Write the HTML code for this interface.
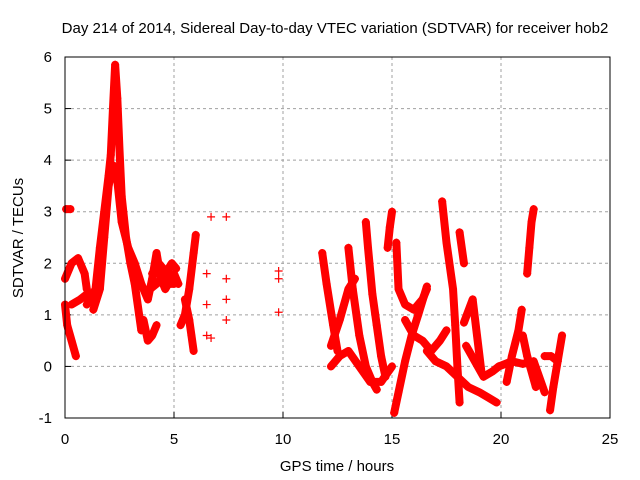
<!DOCTYPE html>
<html><head><meta charset="utf-8"><style>
body{margin:0;background:#fff;}
svg{display:block;font-family:"Liberation Sans",sans-serif;}
</style></head><body>
<svg id="chart" width="640" height="480">
<rect width="640" height="480" fill="#fff"/>
<text x="335" y="33" text-anchor="middle" font-size="15">Day 214 of 2014, Sidereal Day-to-day VTEC variation (SDTVAR) for receiver hob2</text>
<text transform="translate(23,238) rotate(-90)" text-anchor="middle" font-size="15">SDTVAR / TECUs</text>
<text x="337" y="471" text-anchor="middle" font-size="15">GPS time / hours</text>
<g id="grid"></g><g id="ticks"></g><g id="marks"></g>
<rect x="65" y="57" width="545" height="361" fill="none" stroke="#000"/>
</svg>
<script>
const xTicks=[0,5,10,15,20,25];
const yTicks=[-1,0,1,2,3,4,5,6];
const tracks=[
[[1.0,1.2],[1.4,1.5],[1.6,2.3],[1.8,3.0],[2.0,3.7],[2.1,4.1],[2.2,5.0],[2.3,5.85],[2.4,5.2],[2.5,4.2],[2.6,3.3],[2.8,2.5],[3.0,2.0],[3.2,1.6],[3.4,1.0],[3.5,0.7]],
[[1.3,1.1],[1.6,1.5],[1.8,2.5],[2.0,3.5],[2.2,3.9],[2.4,3.6],[2.6,2.8],[2.9,2.3],[3.2,2.0],[3.5,1.6],[3.8,1.3],[4.0,1.7],[4.2,2.2],[4.4,1.7],[4.6,1.5],[5.0,1.8],[5.2,1.6]],
[[0.0,1.2],[0.1,0.8],[0.3,0.5],[0.5,0.2]],
[[0.0,1.7],[0.3,2.0],[0.6,2.1],[0.9,1.8],[1.0,1.5]],
[[0.05,3.05],[0.25,3.05]],
[[0.3,1.2],[0.7,1.3],[1.0,1.4]],
[[3.6,0.9],[3.8,0.5],[4.0,0.6],[4.2,0.8]],
[[4.0,1.8],[4.3,2.0],[4.5,1.9],[4.8,1.6],[5.0,1.6]],
[[3.9,1.5],[4.2,1.6],[4.6,1.8],[4.9,2.0],[5.1,1.9]],
[[5.3,0.8],[5.5,1.0],[5.7,1.5],[5.9,2.2],[6.0,2.55]],
[[5.5,1.3],[5.7,0.9],[5.8,0.6],[5.9,0.3]],
[[11.8,2.2],[12.0,1.6],[12.3,0.8],[12.5,0.3]],
[[12.2,0.0],[12.6,0.2],[13.0,0.3],[13.5,0.0],[14.0,-0.3],[14.5,-0.3],[15.0,0.0]],
[[12.2,0.4],[12.6,0.9],[13.0,1.5],[13.3,1.7]],
[[13.0,2.3],[13.2,1.5],[13.5,0.6],[13.8,0.0],[14.1,-0.3],[14.3,-0.45]],
[[13.8,2.8],[13.9,2.3],[14.1,1.4],[14.3,0.8],[14.5,0.2],[14.7,-0.2]],
[[14.8,2.3],[14.9,2.7],[15.0,3.0]],
[[15.1,-0.9],[15.3,-0.5],[15.6,0.1],[15.9,0.6],[16.2,1.0],[16.6,1.55]],
[[15.2,2.4],[15.3,1.5],[15.6,1.2],[16.0,1.1],[16.4,1.3],[16.6,1.5]],
[[15.6,0.9],[16.0,0.6],[16.4,0.5],[16.8,0.3],[17.2,0.5],[17.5,0.7]],
[[17.3,3.2],[17.5,2.4],[17.8,1.5],[17.9,0.8],[18.0,0.0],[18.1,-0.7]],
[[18.1,2.6],[18.3,2.0]],
[[16.6,0.3],[17.0,0.1],[17.5,0.0],[18.0,-0.2],[18.5,-0.4],[19.0,-0.5],[19.4,-0.6],[19.8,-0.7]],
[[18.4,0.4],[18.8,0.1],[19.2,-0.2],[19.6,-0.1],[19.9,0.0]],
[[18.3,0.85],[18.7,1.3],[18.9,0.6],[19.1,-0.1]],
[[19.9,0.0],[20.5,0.1],[21.0,0.05],[21.5,0.1],[22.0,-0.5]],
[[20.26,-0.3],[20.5,0.2],[20.8,0.7],[20.95,1.1]],
[[21.2,1.8],[21.3,2.3],[21.4,2.8],[21.5,3.05]],
[[21.0,0.6],[21.2,0.2],[21.4,-0.1],[21.6,-0.4]],
[[22.25,-0.85],[22.4,-0.4],[22.6,0.1],[22.8,0.6]],
[[22.0,0.2],[22.3,0.2],[22.6,0.1]]
];
const singles=[[6.5,1.8],[6.5,1.2],[6.5,0.6],[6.7,0.55],[6.7,2.9],[7.4,2.9],[7.4,1.7],[7.4,1.3],[7.4,0.9],[9.8,1.85],[9.8,1.7],[9.8,1.05]];
const NS='http://www.w3.org/2000/svg';
const X=t=>65+t*21.8, Y=v=>57+(6-v)*51.571;
const grid=document.getElementById('grid'),ticks=document.getElementById('ticks'),marks=document.getElementById('marks');
function mk(tag,a,p){const e=document.createElementNS(NS,tag);for(const k in a)e.setAttribute(k,a[k]);p.appendChild(e);return e;}
xTicks.forEach(t=>{
 if(t>0&&t<25){const g=mk('line',{x1:X(t),x2:X(t),y1:57,y2:418,stroke:'#a0a0a0','stroke-dasharray':'3,3'},grid);
 
 }
 const l=mk('text',{x:X(t),y:444,'text-anchor':'middle','font-size':15},ticks);l.textContent=t;
 
 
 mk('line',{x1:X(t),x2:X(t),y1:418,y2:412,stroke:'#000'},ticks);
});
yTicks.forEach(v=>{
 if(v>-1&&v<6){const g=mk('line',{x1:65,x2:610,y1:Y(v),y2:Y(v),stroke:'#a0a0a0','stroke-dasharray':'3,3'},grid);
 
 }
 const l=mk('text',{x:52,y:Y(v)+5,'text-anchor':'end','font-size':15},ticks);l.textContent=v;
 
 
 mk('line',{x1:65,x2:71,y1:Y(v),y2:Y(v),stroke:'#000'},ticks);
});
function plus(t,v){const p=mk('path',{d:`M${X(t)-4},${Y(v)}h8M${X(t)},${Y(v)-4}v8`,stroke:'#f00','stroke-width':1.2},marks);
 
 }
tracks.forEach(tr=>{
 const pl=mk('polyline',{points:tr.map(p=>X(p[0])+','+Y(p[1])).join(' '),fill:'none',stroke:'#f00','stroke-width':8,'stroke-linejoin':'round','stroke-linecap':'round'},marks);
 
 
 tr.forEach(p=>plus(p[0],p[1]));
});
singles.forEach(p=>plus(p[0],p[1]));
</script>
</body></html>
